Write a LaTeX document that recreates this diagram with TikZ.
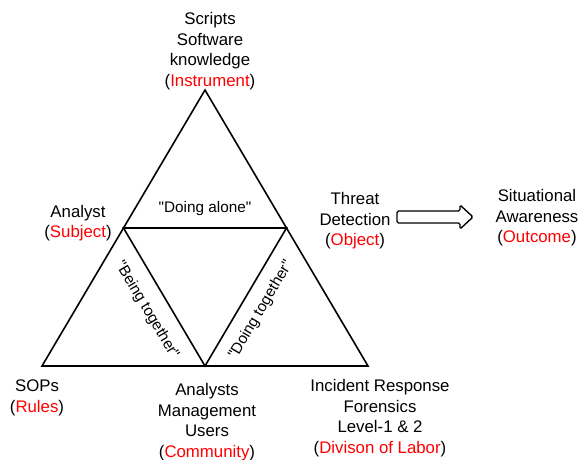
\documentclass[tikz,border=0pt]{standalone}
\usepackage{fontspec}
\setmainfont{Liberation Sans}[Ligatures=TeXOff]
\usetikzlibrary{calc}
\definecolor{rolered}{RGB}{255,0,0}
\tikzset{
  tri/.style={
    line width=1.6pt,
    line join=miter
  },
  lbl/.style={
    align=center,
    inner sep=0pt,
    font=\fontsize{16.8}{20.5}\selectfont
  },
  inner-lbl/.style={
    lbl,
    font=\fontsize{15.3}{18}\selectfont
  },
  block-arrow/.style={
    line width=1.4pt,
    rounded corners=1.5pt
  }
}
\newcommand{\role}[1]{(\textcolor{rolered}{#1})}

\begin{document}
\begin{tikzpicture}[x=1pt,y=-1pt]
  \useasboundingbox (0,0) rectangle (579,460);
  % Corners of the triangle
  \coordinate (T) at (205,90);
  \coordinate (L) at (42,366);
  \coordinate (R) at (368,366);
  \coordinate (ML) at ($(T)!0.5!(L)$);
  \coordinate (MR) at ($(T)!0.5!(R)$);
  \coordinate (MB) at ($(L)!0.5!(R)$);
  % Outer and inner triangle
  \draw[tri] (T) -- (L) -- (R) -- cycle;
  \draw[tri] (ML) -- (MR) -- (MB) -- cycle;
  % Corner labels
  \node[lbl] (instrument) at (210,51) {Scripts\\Software\\knowledge\\\role{Instrument}};
  \node[lbl] (subject) at (78,223) {Analyst\\\role{Subject}};
  \node[lbl] (object) at (355,221) {Threat\\Detection\\\role{Object}};
  \node[lbl] (outcome) at (537,218) {Situational\\Awareness\\\role{Outcome}};
  \node[lbl] (rules) at (37,398) {SOPs\\\role{Rules}};
  \node[lbl] (community) at (207,422) {Analysts\\Management\\Users\\\role{Community}};
  \node[lbl] (labor) at (380,418) {Incident Response\\Forensics\\Level-1 \& 2\\\role{Divison of Labor}};
  % Inner labels
  \node[inner-lbl] (alone) at (205,209) {"Doing alone"};
  \node[inner-lbl, rotate=-59.3] (being) at (147,310) {"Being together"};
  \node[inner-lbl, rotate=59.3] (doing) at (261,310) {"Doing together"};
  % Block arrow to the outcome
  \coordinate (A) at (397,217);
  \coordinate (B) at (473,217);
  \draw[block-arrow] (A |- 0,211) -- (460,211) -- (460,205) -- (B)
    -- (460,229) -- (460,223) -- (A |- 0,223) -- cycle;
\end{tikzpicture}
\end{document}
